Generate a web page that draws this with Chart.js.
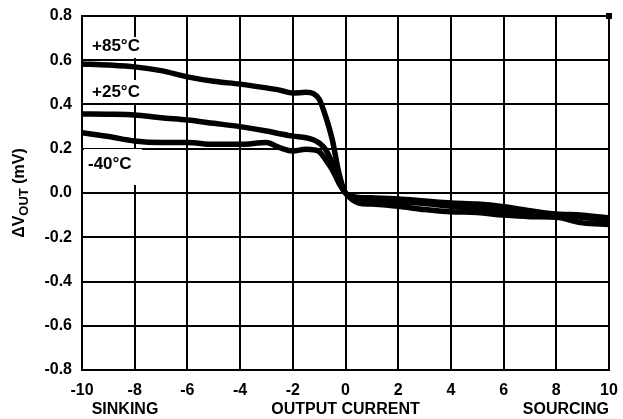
<!DOCTYPE html>
<html>
<head>
<meta charset="utf-8">
<script src="https://cdn.jsdelivr.net/npm/chart.js@4/dist/chart.umd.min.js"></script>
<style>
  html, body { margin: 0; padding: 0; background: #fff; }
  #wrap { width: 623px; height: 419px; }
</style>
</head>
<body>
<div id="wrap"><canvas id="vout"></canvas></div>
<script>
// output current (mA), negative = sinking, positive = sourcing
var current = [-10, -9, -8, -7, -6, -5, -4, -3, -2.5, -2, -1.5, -1.2, -1, -0.75, -0.5, -0.25, 0,
               0.25, 0.5, 1, 2, 3, 4, 5, 6, 7, 8, 9, 10];

var dv_85 = [0.583, 0.578, 0.57, 0.553, 0.525, 0.505, 0.492, 0.475, 0.465, 0.452, 0.455, 0.448, 0.425, 0.345, 0.24, 0.09, 0,
             -0.015, -0.02, -0.022, -0.027, -0.036, -0.045, -0.05, -0.062, -0.08, -0.095, -0.1, -0.113];
var dv_25 = [0.357, 0.356, 0.353, 0.34, 0.33, 0.315, 0.30, 0.28, 0.268, 0.257, 0.25, 0.24, 0.226, 0.195, 0.135, 0.06, 0,
             -0.03, -0.045, -0.05, -0.06, -0.075, -0.085, -0.088, -0.1, -0.107, -0.11, -0.135, -0.142];
var dv_m40 = [0.272, 0.255, 0.235, 0.228, 0.228, 0.22, 0.22, 0.228, 0.205, 0.19, 0.198, 0.195, 0.187, 0.15, 0.105, 0.045, 0,
              -0.02, -0.03, -0.035, -0.04, -0.048, -0.06, -0.07, -0.08, -0.09, -0.1, -0.11, -0.128];

var xTicks = [-10, -8, -6, -4, -2, 0, 2, 4, 6, 8, 10];
var seriesNames = ['+85\u00B0C', '+25\u00B0C', '-40\u00B0C'];

var FONT = '"Liberation Sans", Arial, sans-serif';

function pts(ys) {
  return current.map(function (x, i) { return { x: x, y: ys[i] }; });
}

function lineSet(label, ys) {
  return {
    label: label,
    data: pts(ys),
    borderColor: '#000',
    borderWidth: 5.5,
    pointRadius: 0,
    fill: false,
    cubicInterpolationMode: 'monotone'
  };
}

// temperature labels with white boxes, axis titles
var decor = {
  id: 'decor',
  beforeDatasetsDraw: function (chart) {
    var c = chart.ctx;
    c.save();
    c.font = 'bold 17px ' + FONT;
    c.textBaseline = 'middle';
    var labs = [
      { t: seriesNames[0], x: 92, y: 46, box: [86, 37, 66, 21] },
      { t: seriesNames[1], x: 92, y: 92, box: [86, 80, 66, 23] },
      { t: seriesNames[2], x: 88, y: 164, box: [84, 149, 58, 36] }
    ];
    labs.forEach(function (l) {
      c.fillStyle = '#fff';
      c.fillRect(l.box[0], l.box[1], l.box[2], l.box[3]);
      c.fillStyle = '#000';
      c.textAlign = 'left';
      c.fillText(l.t, l.x, l.y);
    });
    c.restore();
  },
  afterDraw: function (chart) {
    var c = chart.ctx;
    var a = chart.chartArea;
    c.save();
    c.fillStyle = '#000';
    c.fillRect(a.right - 3, a.top - 3, 6, 6);

    c.font = 'bold 16px ' + FONT;
    c.textBaseline = 'middle';
    c.textAlign = 'center';
    c.fillText('SINKING', 125, 410);
    c.fillText('OUTPUT CURRENT', chart.scales.x.getPixelForValue(0), 410);
    c.textAlign = 'right';
    c.fillText('SOURCING', a.right, 410);

    // y title: delta V subscript OUT (mV)
    c.translate(20, (a.top + a.bottom) / 2);
    c.rotate(-Math.PI / 2);
    var f1 = 'bold 16px ' + FONT, f2 = 'bold 13px ' + FONT;
    var parts = [['\u0394V', f1, 0], ['OUT', f2, 4], [' (mV)', f1, 0]];
    var w = 0;
    parts.forEach(function (p) { c.font = p[1]; w += c.measureText(p[0]).width; });
    var x = -w / 2;
    c.textAlign = 'left';
    parts.forEach(function (p) {
      c.font = p[1];
      c.fillText(p[0], x, p[2]);
      x += c.measureText(p[0]).width;
    });
    c.restore();
  }
};

new Chart(document.getElementById('vout'), {
  type: 'line',
  data: {
    datasets: [
      lineSet(seriesNames[0], dv_85),
      lineSet(seriesNames[1], dv_25),
      lineSet(seriesNames[2], dv_m40)
    ]
  },
  options: {
    responsive: true,
    maintainAspectRatio: false,
    animation: false,
    layout: { padding: { top: 16, right: 14, left: 0, bottom: 0 } },
    plugins: {
      legend: { display: false },
      tooltip: { enabled: false }
    },
    scales: {
      x: {
        type: 'linear',
        min: -10,
        max: 10,
        afterFit: function (s) {
          s.height = 49;
          s.paddingLeft = 0;
          s.paddingRight = 0;
        },
        afterBuildTicks: function (s) { s.ticks = xTicks.map(function (v) { return { value: v }; }); },
        grid: { color: '#000', lineWidth: 2, drawTicks: false },
        border: { color: '#000', width: 2 },
        ticks: {
          color: '#000',
          padding: 11,
          maxRotation: 0,
          font: { family: FONT, size: 16, weight: 'bold' }
        }
      },
      y: {
        min: -0.8,
        max: 0.8,
        afterFit: function (s) {
          s.width = 82;
          s.paddingTop = 0;
          s.paddingBottom = 0;
        },
        grid: { color: '#000', lineWidth: 2, drawTicks: false },
        border: { color: '#000', width: 2 },
        ticks: {
          stepSize: 0.2,
          color: '#000',
          padding: 10,
          font: { family: FONT, size: 16, weight: 'bold' },
          callback: function (v) { return (Math.abs(v) < 1e-9 ? 0 : v).toFixed(1); }
        }
      }
    }
  },
  plugins: [decor]
});
</script>
</body>
</html>
